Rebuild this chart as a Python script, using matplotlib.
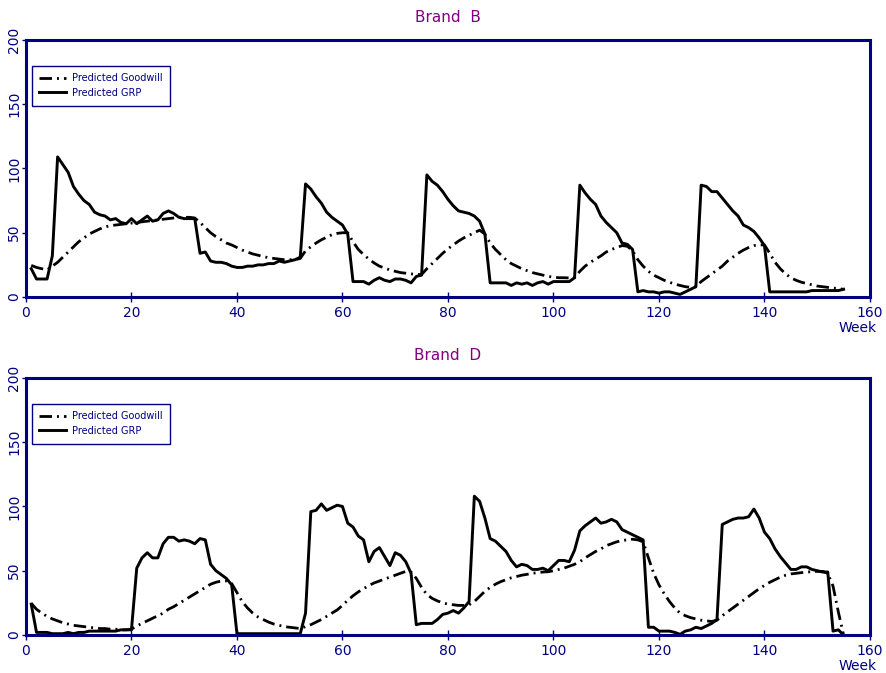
## Bibliotecas
import numpy as np
import matplotlib
matplotlib.use("Agg")
import matplotlib.pyplot as plt

## Dados (semanas 1 a 155)
semanas = list(range(1, 156))

grp_b = [22, 14, 14, 14, 32, 109, 103, 97, 86, 80,
         75, 72, 66, 64, 63, 60, 61, 58, 57, 61,
         57, 60, 63, 59, 60, 65, 67, 65, 62, 61,
         61, 61, 34, 35, 28, 27, 27, 26, 24, 23,
         23, 24, 24, 25, 25, 26, 26, 28, 27, 28,
         29, 31, 88, 84, 78, 73, 66, 62, 59, 56,
         49, 12, 12, 12, 10, 13, 15, 13, 12, 14,
         14, 13, 11, 16, 17, 95, 90, 87, 82, 76,
         71, 67, 66, 65, 63, 59, 49, 11, 11, 11,
         11, 9, 11, 10, 11, 9, 11, 12, 10, 12,
         12, 12, 12, 15, 87, 81, 76, 72, 63, 58,
         54, 50, 42, 41, 37, 4, 5, 4, 4, 3,
         4, 4, 3, 2, 4, 6, 8, 87, 86, 82,
         82, 77, 72, 67, 63, 56, 54, 51, 46, 40,
         4, 4, 4, 4, 4, 4, 4, 4, 5, 5,
         5, 5, 5, 5, 6]

goodwill_b = [24.6, 23, 22, 21, 24, 27, 31, 35, 39, 43,
              46, 49, 51, 53, 54.5, 55.5, 56, 56.5, 57, 57.5,
              58, 58.5, 59, 59.5, 60, 60.5, 61, 61.5, 62, 62,
              62, 61.5, 58, 54, 50, 47, 44.5, 42, 40.5, 38.5,
              36.5, 35, 33.5, 32.5, 31.5, 30.5, 30, 29.5, 29, 29,
              29, 30, 36, 39, 42, 44.5, 46.5, 48.5, 49.5, 50,
              50, 43, 37, 33, 29.5, 26.5, 24, 22.5, 21, 20,
              19, 18.5, 18, 17.5, 17.5, 22, 26, 30, 34, 37.5,
              40.5, 43.5, 46, 48, 50, 52, 49, 42, 37, 33,
              29, 26, 24, 22, 20.5, 19, 18, 17, 16, 15.5,
              15, 15, 14.8, 15, 20, 24, 27, 29.5, 32, 35,
              37, 38.5, 40, 39.5, 36, 29, 24, 20, 17, 15,
              13, 11.5, 10, 9, 8, 7.5, 8, 12, 15, 18,
              21, 24, 28, 31, 34, 36.5, 38.5, 40, 40.5, 40.5,
              34, 27, 22, 18, 15, 13, 11.5, 10.5, 9.5, 8.5,
              8, 7.5, 7, 6.5, 6]

grp_d = [24, 2, 2, 2, 1, 1, 1, 2, 1, 2,
         2, 3, 3, 3, 3, 3, 3, 4, 4, 4,
         52, 60, 64, 60, 60, 71, 76, 76, 73, 74,
         73, 71, 75, 74, 55, 50, 47, 44, 39, 1,
         1, 1, 1, 1, 1, 1, 1, 1, 1, 1,
         1, 1, 17, 96, 97, 102, 97, 99, 101, 100,
         87, 84, 77, 74, 57, 65, 68, 61, 54, 64,
         62, 57, 48, 8, 9, 9, 9, 12, 16, 17,
         19, 17, 21, 26, 108, 104, 91, 75, 73, 69,
         65, 58, 53, 55, 54, 51, 51, 52, 50, 54,
         58, 58, 57, 66, 81, 85, 88, 91, 87, 88,
         90, 88, 82, 80, 78, 76, 74, 6, 6, 3,
         3, 3, 2, 0.5, 3, 4, 6, 5, 7, 9,
         12, 86, 88, 90, 91, 91, 92, 98, 91, 80,
         75, 67, 61, 56, 51, 51, 53, 53, 51, 50,
         49, 49, 3, 4, 0]

goodwill_d = [24.6, 20, 17, 14.5, 12.5, 11, 9.5, 8.5, 7.5, 7,
              6.5, 6, 5.5, 5, 5, 4.5, 4.5, 4, 4, 4.5,
              7, 9, 11, 13, 15, 17, 20, 22, 24.5, 27,
              29.5, 32, 34.5, 37, 39.5, 41, 42, 42, 40, 33,
              26, 21, 17, 14, 12, 10, 8.5, 7.5, 6.5, 6,
              5.5, 5, 6.5, 8, 10, 12, 14.5, 17, 19.5, 23,
              27, 30.5, 33.5, 36, 38.5, 40.5, 42, 43.5, 45, 46.5,
              48, 49.5, 49, 44, 37, 31.5, 28.5, 26.5, 25, 24,
              23.5, 23, 23, 23.5, 26, 30, 34, 37, 39.5, 41.5,
              43, 44.5, 45.5, 46.5, 47.2, 48, 48.5, 49, 49.2, 50,
              51, 52, 53.5, 55, 57, 60, 62.5, 65, 67, 69.5,
              71, 72.5, 73.5, 74, 74.5, 74, 72.5, 60, 48, 39,
              32, 26, 21, 17, 15, 13.5, 12.5, 11.5, 11, 10.5,
              11.5, 15, 18, 21, 24, 27, 30, 33, 36, 38.5,
              41, 43, 45, 46.5, 47.5, 48, 48.5, 49, 49.2, 49.5,
              49.5, 48, 38, 18, 0]

marcas = ["Brand  B", "Brand  D"]
series = [(grp_b, goodwill_b), (grp_d, goodwill_d)]

## Cores e estilo
azul = "#000080"
roxo = "#800080"
tracejado = (0, (4.5, 1.8, 0.7, 1.8))

fig = plt.figure(figsize=(8.86, 6.73), dpi=100)
posicoes = [[0.0293, 0.5587, 0.9526, 0.3819],
            [0.0293, 0.0565, 0.9526, 0.3819]]

for pos, marca, (grp, goodwill) in zip(posicoes, marcas, series):
    ax = fig.add_axes(pos)
    ax.plot(semanas, goodwill, color="black", lw=2.0, linestyle=tracejado,
            label="Predicted Goodwill")
    ax.plot(semanas, grp, color="black", lw=2.1, label="Predicted GRP")

    ax.set_xlim(0, 160)
    ax.set_ylim(0, 200)
    ax.set_xticks(np.arange(0, 161, 20))
    ax.set_yticks(np.arange(0, 201, 50))

    # Eixos em azul escuro
    for lado in ax.spines.values():
        lado.set_color(azul)
        lado.set_linewidth(2.2)
    ax.tick_params(axis="x", direction="inout", length=7, width=1, colors=azul,
                   labelsize=10, pad=3)
    ax.tick_params(axis="y", direction="out", length=3, width=1, colors=azul,
                   labelsize=10, pad=0.5, labelrotation=90)
    for rotulo in ax.get_yticklabels():
        rotulo.set_va("center")

    ax.annotate(marca, xy=(0.5, 1), xycoords="axes fraction", xytext=(0, 16),
                textcoords="offset points", ha="center", va="center",
                color=roxo, fontsize=11)
    ax.annotate("Week", xy=(1, 0), xycoords="axes fraction", xytext=(5, -22),
                textcoords="offset points", ha="right", va="center",
                color=azul, fontsize=10)

    leg = ax.legend(loc="upper left", bbox_to_anchor=(0.0068, 0.900),
                    borderaxespad=0, fontsize=7, handlelength=2.7,
                    labelspacing=0.45, fancybox=False, framealpha=1,
                    edgecolor=azul, borderpad=0.8, handletextpad=0.6)
    leg.get_frame().set_linewidth(1.0)
    for texto in leg.get_texts():
        texto.set_color(azul)

fig.savefig("out.png", dpi=100)
